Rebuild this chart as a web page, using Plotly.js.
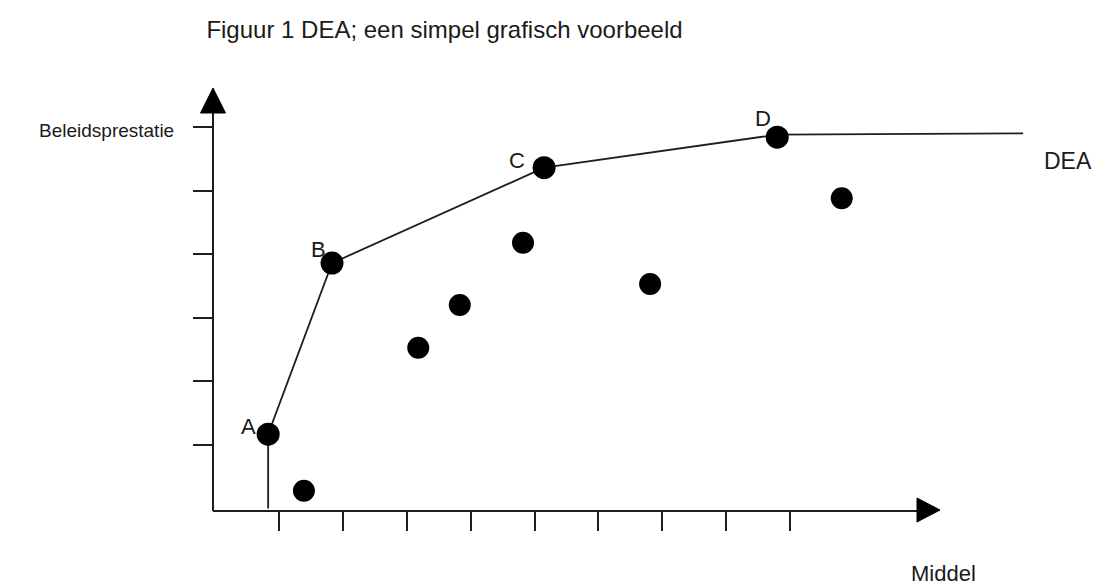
<!DOCTYPE html>
<html>
<head>
<meta charset="utf-8">
<script src="https://cdn.plot.ly/plotly-3.0.1.min.js"></script>
<style>html,body{margin:0;padding:0;background:#fff;}#chart{width:1098px;height:588px;}</style>
</head>
<body>
<div id="chart"></div>
<script>
// ---- data (in tick units) ----
var labelNames = ["A", "B", "C", "D"];
var labelX = [0.83, 1.83, 5.15, 8.80];
var labelY = [1.17, 3.86, 5.36, 5.84];

var otherX = [1.39, 3.18, 3.83, 4.82, 6.81, 9.81];
var otherY = [0.28, 2.53, 3.20, 4.18, 3.53, 4.88];

var frontierX = [0.83, 0.83, 1.83, 5.15, 8.80, 12.65];
var frontierY = [0.00, 1.17, 3.86, 5.36, 5.88, 5.90];

var xTicks = [1, 2, 3, 4, 5, 6, 7, 8, 9];
var yTicks = [1, 2, 3, 4, 5, 6];

var titleText = "Figuur 1 DEA; een simpel grafisch voorbeeld";
var yLabel = "Beleidsprestatie";
var xLabel = "Middel";
var frontierLabel = "DEA";

// ---- layout helpers ----
var PL = 213, PR = 1030, PT = 80, PB = 511;   // plot area in pixels
var X1PX = 279, XPX = 63.875;   // x=1 at 279px, px per unit
var Y1PX = 445, YPX = 63.6;     // y=1 at 445px
function px2x(p){ return 1 + (p - X1PX) / XPX; }
function px2y(p){ return 1 - (p - Y1PX) / YPX; }
function fx(p){ return (p - PL) / (PR - PL); }   // pixel -> paper
function fy(p){ return (PB - p) / (PB - PT); }

var ink = "#1e1e1e";
var txt = "#1a1a1a";
var font = "Liberation Sans, Arial, sans-serif";

var traces = [
  {x: frontierX, y: frontierY, mode: "lines", line: {color: ink, width: 1.8}, hoverinfo: "skip", showlegend: false},
  {x: otherX, y: otherY, mode: "markers", marker: {color: "#000", size: 22}, showlegend: false, cliponaxis: false},
  {x: labelX, y: labelY, mode: "markers", marker: {color: "#000", size: 23}, showlegend: false, cliponaxis: false}
];

var labelShift = [[-20, 8], [-14, 14], [-27, 7], [-14, 19]];
var annotations = labelNames.map(function(t, i){
  return {x: labelX[i], y: labelY[i], xref: "x", yref: "y", text: t, showarrow: false,
    xshift: labelShift[i][0], yshift: labelShift[i][1], font: {family: font, size: 22, color: txt}};
});
annotations.push({x: fx(1068), y: fy(161), xref: "paper", yref: "paper", text: frontierLabel, showarrow: false,
  xanchor: "center", yanchor: "middle", font: {family: font, size: 23, color: txt}});
annotations.push({x: fx(943), y: fy(573), xref: "paper", yref: "paper", text: xLabel, showarrow: false,
  xanchor: "center", yanchor: "middle", font: {family: font, size: 22, color: txt}});
annotations.push({x: fx(176), y: fy(130), xref: "paper", yref: "paper", text: yLabel, showarrow: false,
  xanchor: "right", yanchor: "middle", font: {family: font, size: 19, color: txt}});

var shapes = [
  // y axis line
  {type: "line", xref: "paper", yref: "paper", x0: fx(213), x1: fx(213), y0: fy(511), y1: fy(110), line: {color: ink, width: 2}},
  // x axis line
  {type: "line", xref: "paper", yref: "paper", x0: fx(213), x1: fx(920), y0: fy(511), y1: fy(511), line: {color: ink, width: 2}},
  // y arrow head
  {type: "path", xref: "paper", yref: "paper", fillcolor: "#000", line: {color: "#000", width: 1},
    path: "M " + fx(200.5) + " " + fy(113) + " L " + fx(225.5) + " " + fy(113) + " L " + fx(213) + " " + fy(88) + " Z"},
  // x arrow head
  {type: "path", xref: "paper", yref: "paper", fillcolor: "#000", line: {color: "#000", width: 1},
    path: "M " + fx(917) + " " + fy(498) + " L " + fx(917) + " " + fy(522) + " L " + fx(940) + " " + fy(510) + " Z"}
];

var layout = {
  width: 1098, height: 588,
  margin: {l: PL, r: 1098 - PR, t: PT, b: 588 - PB},
  paper_bgcolor: "#fff", plot_bgcolor: "#fff",
  title: {text: titleText, x: 444.5/1098, xanchor: "center", xref: "container",
    y: 1 - 30/588, yanchor: "middle", yref: "container", font: {family: font, size: 24, color: txt}},
  xaxis: {range: [px2x(PL), px2x(PR)], showgrid: false, zeroline: false, showline: false,
    tickvals: xTicks, ticks: "outside", ticklen: 19, tickwidth: 2, tickcolor: ink, showticklabels: false, fixedrange: true},
  yaxis: {range: [px2y(PB), px2y(PT)], showgrid: false, zeroline: false, showline: false,
    tickvals: yTicks, ticks: "outside", ticklen: 19, tickwidth: 2, tickcolor: ink, showticklabels: false, fixedrange: true},
  shapes: shapes,
  annotations: annotations,
  showlegend: false
};

Plotly.newPlot("chart", traces, layout, {displayModeBar: false, staticPlot: true});
</script>
</body>
</html>
